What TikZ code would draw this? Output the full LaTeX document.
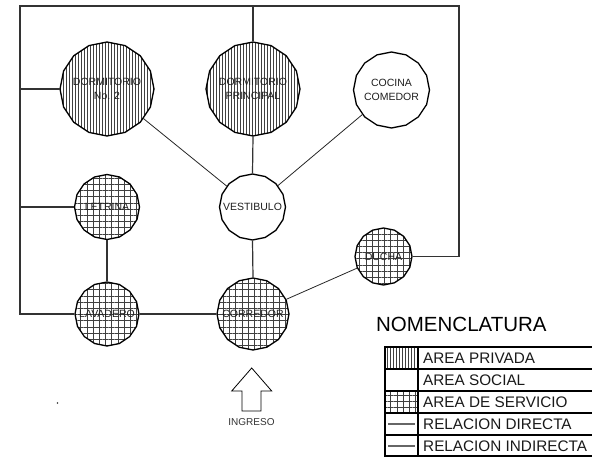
\documentclass[tikz,border=0pt]{standalone}
\usepackage{fontspec}
\setmainfont{Liberation Sans}
\usetikzlibrary{shapes.geometric,patterns.meta}
\begin{document}
\begin{tikzpicture}[x=1pt,y=-1pt,
  roomtext/.style={inner sep=0pt, align=center, text=black!88,
    font=\fontsize{10.5}{14}\selectfont},
  room/.style={draw=black, line width=1.3pt, regular polygon, regular polygon sides=16,
    shape border rotate=11.25, inner sep=0pt},
  vlines/.style={pattern={Lines[angle=90,distance=3pt,line width=0.45pt]}, pattern color=black!75},
  grid/.style={pattern={Hatch[angle=0,distance=6.2pt,line width=0.45pt]}, pattern color=black!75},
  privada/.style={room, vlines},
  servicio/.style={room, grid},
  social/.style={room, fill=white},
  wall/.style={draw=black!80, line width=1.2pt},
  rel/.style={draw=black!85, line width=0.8pt},
  tab/.style={draw=black, line width=1.6pt},
  legtext/.style={anchor=west, inner sep=0pt, text=black!90, font=\fontsize{15.3}{18}\selectfont},
  small/.style={font=\fontsize{10}{12}\selectfont, text=black!80}]
\useasboundingbox (0,0) rectangle (592,457);
\clip (0,0) rectangle (592,457);

% rooms
\node[privada, minimum size=94pt, label={[roomtext]center:DORMITORIO\\No. 2}] (d2) at (107,89) {};
\node[privada, minimum size=94pt, label={[roomtext]center:DORMITORIO\\PRINCIPAL}] (dp) at (253,89) {};
\node[social, minimum size=76pt, label={[roomtext]center:COCINA\\COMEDOR}] (cc) at (391.5,90) {};
\node[social, minimum size=66pt, label={[roomtext]center:VESTIBULO}] (ve) at (252.5,207) {};
\node[servicio, minimum size=65pt, label={[roomtext]center:LETRINA}] (le) at (107,207) {};
\node[servicio, minimum size=64pt, label={[roomtext]center:LAVADERO}] (la) at (107,314) {};
\node[servicio, minimum size=72pt, label={[roomtext]center:CORREDOR}] (co) at (253,314) {};
\node[servicio, minimum size=57pt, label={[roomtext]center:DUCHA}] (du) at (383.5,256.5) {};

% frame points
\coordinate (fbl) at (20,314);
\coordinate (ftl) at (20,6);
\coordinate (ftr) at (459,6);
\coordinate (fbr) at (459,256.5);
\coordinate (fdp) at (253,6);
\coordinate (fd2) at (20,89);
\coordinate (fle) at (20,207);

% connectors
\draw[wall] (la.west) -- (fbl) -- (ftl) -- (ftr) -- (fbr) -- (du.east);
\draw[wall] (fd2) -- (d2.west);
\draw[wall] (fle) -- (le.west);
\draw[wall] (fdp) -- (dp.north);
\draw[wall] (dp.south) -- (ve.north);
\draw[wall] (le.south) -- (la.north);
\draw[wall] (la.east) -- (co.west);
\draw[wall] (ve.south) -- (co.north);
\draw[rel] (d2) -- (ve);
\draw[rel] (cc) -- (ve);
\draw[rel] (co) -- (du);

% entrance arrow
\draw[line width=0.8pt, line join=miter] (251.7,368) -- (271.7,391) -- (261,391) -- (261,411)
  -- (242,411) -- (242,391) -- (231.7,391) -- cycle;
\node[small] (ing) at (251.5,422) {INGRESO};

% stray dot
\fill[black!80] (57.5,403) circle (0.8);

% legend
\node[font=\fontsize{20.5}{24}\selectfont] (nom) at (461.4,324) {NOMENCLATURA};
\path[vlines] (385,347) rectangle (418,369);
\path[grid] (385,391) rectangle (418,413);
\draw[rel, draw=black!60, line width=1.2pt] (388,424) -- (415,424);
\draw[rel, draw=black!60, line width=1.2pt] (388,446) -- (415,446);
\foreach \yy in {347,369,391,413,435,456} \draw[tab] (385,\yy) -- (600,\yy);
\draw[tab] (385,346.2) -- (385,457);
\draw[tab] (418,346.2) -- (418,457);
\node[legtext] (l1) at (423,358) {AREA PRIVADA};
\node[legtext] (l2) at (423,380) {AREA SOCIAL};
\node[legtext] (l3) at (423,402) {AREA DE SERVICIO};
\node[legtext] (l4) at (423,424) {RELACION DIRECTA};
\node[legtext] (l5) at (423,446) {RELACION INDIRECTA};
\end{tikzpicture}
\end{document}
